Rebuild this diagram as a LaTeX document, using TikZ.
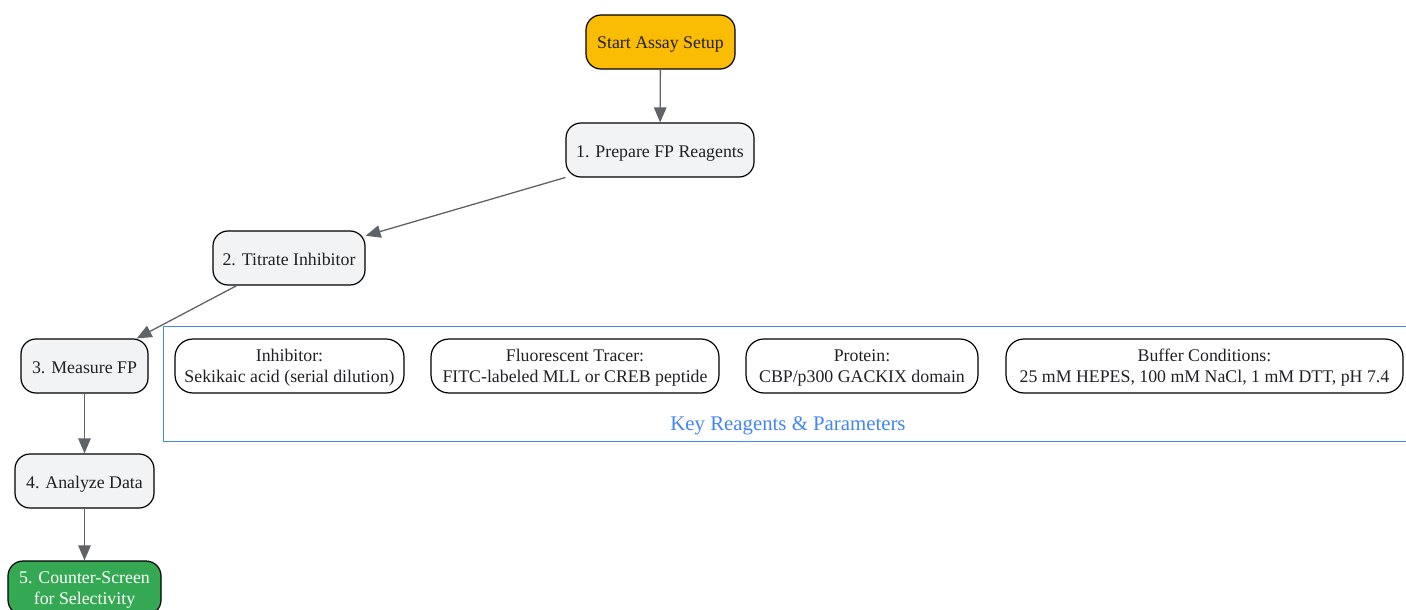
\documentclass[tikz,border=0pt]{standalone}
\usepackage{fontspec}
\setmainfont{Liberation Serif}
\usetikzlibrary{arrows.meta}
\definecolor{gold}{HTML}{FBBC04}
\definecolor{lightg}{HTML}{F1F3F4}
\definecolor{gr}{HTML}{34A853}
\definecolor{bl}{HTML}{4285F4}
\definecolor{edgec}{HTML}{5F6368}
\definecolor{txt}{HTML}{202124}
\newcommand{\tallstrut}{\rule{0pt}{16pt}}
\tikzset{
  stepbox/.style={draw=black, line width=1.2pt, rounded corners=15pt, fill=lightg, text=txt, minimum height=54pt, inner sep=0pt, align=center, font=\fontsize{17.8}{21}\selectfont},
  oneline/.style={text height=17pt, text depth=3pt},
  reagent/.style={draw=black, line width=1.2pt, rounded corners=18pt, fill=white, text=txt, minimum height=54pt, inner sep=0pt, align=center, font=\fontsize{17.8}{21}\selectfont},
  conn/.style={draw=edgec, line width=1.3pt, -{Triangle[length=15pt,width=12.5pt]}},
}
\begin{document}
\begin{tikzpicture}[x=1pt,y=-1pt]
\useasboundingbox (0,0) rectangle (1406,610);
\node[draw=bl, line width=1.2pt, minimum width=1260pt, minimum height=115pt, inner sep=0pt, anchor=north west] (cluster) at (162.5,325.5) {};
\node[text=bl, font=\fontsize{20.8}{24}\selectfont] (clab) at (788,425.5) {Key Reagents \& Parameters};
\node[stepbox, oneline, fill=gold, minimum width=149pt] (start) at (660.5,42) {Start Assay Setup};
\node[stepbox, oneline, minimum width=188pt] (prep) at (660,150) {1. Prepare FP Reagents};
\node[stepbox, oneline, minimum width=152pt] (titr) at (289,258) {2. Titrate Inhibitor};
\node[stepbox, oneline, minimum width=127pt] (meas) at (84.5,366) {3. Measure FP};
\node[stepbox, oneline, minimum width=139pt] (anal) at (84.5,481) {4. Analyze Data};
\node[stepbox, fill=gr, text=white, minimum width=153pt] (counter) at (84.5,588) {\tallstrut 5. Counter-Screen\\for Selectivity};
\node[reagent, minimum width=229pt] (inh) at (289.5,366) {\tallstrut Inhibitor:\\Sekikaic acid (serial dilution)};
\node[reagent, minimum width=288pt] (trac) at (575,366) {\tallstrut Fluorescent Tracer:\\FITC-labeled MLL or CREB peptide};
\node[reagent, minimum width=232pt] (prot) at (862,366) {\tallstrut Protein:\\CBP/p300 GACKIX domain};
\node[reagent, minimum width=397pt] (buf) at (1204.5,366) {\tallstrut Buffer Conditions:\\25 mM HEPES, 100 mM NaCl, 1 mM DTT, pH 7.4};
\draw[conn] (start) -- (prep);
\draw[conn] (prep) -- (titr);
\draw[conn] (titr) -- (meas);
\draw[conn] (meas) -- (anal);
\draw[conn] (anal) -- (counter);
\end{tikzpicture}
\end{document}
